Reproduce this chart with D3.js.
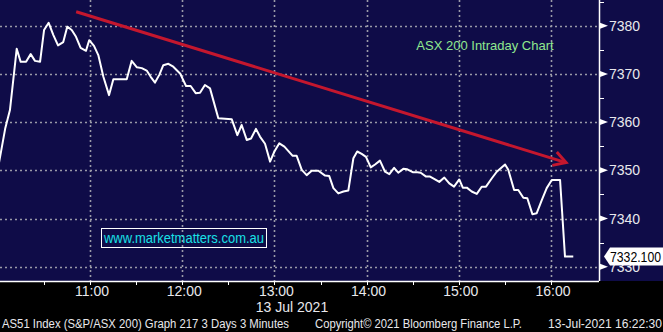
<!DOCTYPE html>
<html>
<head>
<meta charset="utf-8">
<script src="https://cdn.jsdelivr.net/npm/d3@7"></script>
<style>
  body { margin: 0; background: #000; }
  svg { display: block; font-family: "Liberation Sans", Arial, sans-serif; }
</style>
</head>
<body>
<svg id="chart" width="663" height="332"></svg>
<script>
// minutos depois das 10:00 e valor do índice
const minutes = [0, 4.9, 7.9, 12.3, 14.9, 18.4, 21.4, 24.2, 27.5, 30.1, 33.1, 36.1, 39.2, 42.6, 45.2, 48.1, 50.9, 53.9, 57.4, 59.5,
  62.6, 65.4, 68.7, 72.4, 75.2, 79.1, 83.9, 87.1, 90.4, 93.7, 96.9, 99.5, 102.3, 105.1, 107.7, 111.0, 114.2, 118.6, 122.5, 125.5,
  128.8, 131.6, 134.8, 138.1, 143.5, 152.2, 155.9, 158.7, 162.0, 164.8, 168.0, 170.6, 173.9, 177.2, 180.0, 183.2, 186.5, 191.9, 194.5, 197.8,
  201.0, 204.3, 208.6, 213.0, 215.7, 218.4, 221.6, 224.9, 228.1, 231.4, 233.9, 236.8, 239.6, 242.7, 245.5, 248.7, 252.0, 254.8, 257.9, 260.6,
  263.9, 266.5, 270.0, 273.0, 275.2, 278.7, 281.3, 284.5, 287.3, 290.6, 293.8, 296.9, 300.3, 302.6, 305.2, 308.4, 311.7, 314.9, 317.7, 321.4,
  324.7, 330.1, 332.2, 336.0, 338.7, 342.0, 344.6, 347.9, 350.7, 354.0, 357.2, 360.5, 365.9, 369.1, 374.5];
const values = [7350.2, 7358.8, 7362.5, 7375.2, 7372.5, 7372.5, 7374.1, 7372.7, 7372.5, 7379.1, 7380.6, 7378.1, 7375.9, 7376.6, 7379.8, 7379.1, 7377.7, 7375.4, 7374.8, 7377.0,
  7375.8, 7373.9, 7369.4, 7365.6, 7368.9, 7368.9, 7368.9, 7372.7, 7371.4, 7371.2, 7370.7, 7369.4, 7368.2, 7369.8, 7371.8, 7372.1, 7371.5, 7370.1, 7367.5, 7367.5,
  7366.0, 7366.1, 7367.7, 7367.0, 7360.8, 7360.6, 7357.3, 7359.4, 7356.3, 7356.6, 7358.6, 7357.0, 7355.5, 7351.8, 7353.9, 7355.6, 7354.9, 7353.0, 7353.0, 7350.1,
  7349.0, 7349.9, 7349.9, 7348.9, 7348.8, 7346.3, 7345.2, 7345.6, 7345.8, 7352.5, 7353.9, 7353.4, 7352.8, 7350.6, 7351.2, 7352.0, 7349.7, 7349.2, 7350.5, 7349.5,
  7350.3, 7350.2, 7349.6, 7349.6, 7349.5, 7348.7, 7348.7, 7348.1, 7347.6, 7348.5, 7347.3, 7346.6, 7348.1, 7346.4, 7346.4, 7345.6, 7345.1, 7346.6, 7346.6, 7348.3,
  7349.7, 7351.2, 7350.1, 7345.9, 7345.9, 7344.3, 7344.2, 7340.9, 7341.1, 7343.8, 7346.3, 7348.0, 7348.0, 7332.1, 7332.1];

const yTicks = [7330, 7340, 7350, 7360, 7370, 7380];
const yMinor = [7335, 7345, 7355, 7365, 7375, 7385];
const hourTicks = ["11:00", "12:00", "13:00", "14:00", "15:00", "16:00"];
const halfTicks = ["10:30", "11:30", "12:30", "13:30", "14:30", "15:30"];
const lastPrice = 7332.1;
// seta de tendência: início e fim (minutos, valor)
const trendStart = [51, 7382.9];
const trendEnd = [369.8, 7351.6];

const width = 663, height = 332;
const plotRight = 599, plotBottom = 281;
const navy = "#0f0c48";

const day = (m) => new Date(2021, 6, 13, 10, 0, 0, 0).getTime() + m * 60000;
const parseHM = (s) => { const [h, mm] = s.split(":").map(Number); return day((h - 10) * 60 + mm); };

const x = d3.scaleTime()
  .domain([day(0), day(360)])
  .range([-2.2, 551]);
const y = d3.scaleLinear()
  .domain([7330, 7380])
  .range([266.7, 25.7]);

const svg = d3.select("#chart");

// fundo
svg.append("rect").attr("width", width).attr("height", height).attr("fill", "#000");
svg.append("rect").attr("width", width).attr("height", plotBottom).attr("fill", navy);

// grade pontilhada
const grid = svg.append("g").attr("stroke", "#9a9aa8").attr("stroke-width", 1.6).attr("stroke-dasharray", "2,3");
grid.selectAll(".gy").data(yTicks).join("line")
  .attr("x1", 0).attr("x2", plotRight)
  .attr("y1", d => Math.round(y(d)) + 0.5).attr("y2", d => Math.round(y(d)) + 0.5);
grid.selectAll(".gx").data(hourTicks).join("line")
  .attr("x1", d => Math.round(x(parseHM(d))) + 0.5).attr("x2", d => Math.round(x(parseHM(d))) + 0.5)
  .attr("y1", 0).attr("y2", plotBottom);

// eixo inferior
const xAxis = svg.append("g").attr("transform", `translate(0,${plotBottom})`);
xAxis.append("line").attr("x1", 0).attr("x2", plotRight).attr("y1", 0.5).attr("y2", 0.5)
  .attr("stroke", "#fff").attr("stroke-width", 1.5);
xAxis.selectAll(".half").data(halfTicks).join("line")
  .attr("x1", d => Math.round(x(parseHM(d))) + 0.5).attr("x2", d => Math.round(x(parseHM(d))) + 0.5)
  .attr("y1", 0).attr("y2", 4).attr("stroke", "#fff");
xAxis.selectAll(".hour").data(hourTicks).join("line")
  .attr("x1", d => Math.round(x(parseHM(d))) + 0.5).attr("x2", d => Math.round(x(parseHM(d))) + 0.5)
  .attr("y1", 0).attr("y2", 4).attr("stroke", "#fff");
xAxis.selectAll("text").data(hourTicks).join("text")
  .attr("x", d => x(parseHM(d)) + 2)
  .attr("y", 15)
  .attr("text-anchor", "middle")
  .attr("fill", "#e8e8ec")
  .attr("font-size", 14)
  .text(d => d);

svg.append("text")
  .attr("x", 292).attr("y", 312)
  .attr("text-anchor", "middle")
  .attr("fill", "#e8e8ec").attr("font-size", 14)
  .text("13 Jul 2021");

// eixo direito
const yAxis = svg.append("g").attr("transform", `translate(${plotRight},0)`);
yAxis.append("line").attr("x1", 0.5).attr("x2", 0.5).attr("y1", 0).attr("y2", plotBottom)
  .attr("stroke", "#fff").attr("stroke-width", 1.5);
yAxis.selectAll(".minor").data(yMinor).join("line")
  .attr("x1", 0).attr("x2", 5)
  .attr("y1", d => Math.round(y(d)) + 0.5).attr("y2", d => Math.round(y(d)) + 0.5)
  .attr("stroke", "#fff");
yAxis.selectAll(".tri").data(yTicks).join("path")
  .attr("d", d => `M1,${y(d) - 3}L9,${y(d)}L1,${y(d) + 3}Z`)
  .attr("fill", "#fff");
yAxis.selectAll("text").data(yTicks).join("text")
  .attr("x", 10)
  .attr("y", d => y(d) + 5)
  .attr("fill", "#e8e8ec").attr("font-size", 14)
  .text(d => d);

// linha do índice
const pts = minutes.map((m, i) => [day(m), values[i]]);
svg.append("path")
  .datum(pts)
  .attr("fill", "none")
  .attr("stroke", "#fff")
  .attr("stroke-width", 2)
  .attr("stroke-linejoin", "round")
  .attr("d", d3.line().x(d => x(d[0])).y(d => y(d[1])));

// seta vermelha
const tx1 = x(day(trendStart[0])), ty1 = y(trendStart[1]);
const tx2 = x(day(trendEnd[0])), ty2 = y(trendEnd[1]);
const ang = Math.atan2(ty2 - ty1, tx2 - tx1);
const head = 14;
svg.append("line")
  .attr("x1", tx1).attr("y1", ty1).attr("x2", tx2).attr("y2", ty2)
  .attr("stroke", "#c4172e").attr("stroke-width", 3);
svg.append("path")
  .attr("d", `M${tx2 - head * Math.cos(ang - 0.5)},${ty2 - head * Math.sin(ang - 0.5)}L${tx2},${ty2}L${tx2 - head * Math.cos(ang + 0.55)},${ty2 - head * Math.sin(ang + 0.55)}`)
  .attr("fill", "none").attr("stroke", "#c4172e").attr("stroke-width", 3);

// rótulo do último preço
const ly = y(lastPrice);
svg.append("path")
  .attr("d", `M${plotRight + 5},${ly}L${plotRight + 11},${ly - 9}L${width},${ly - 9}L${width},${ly + 9}L${plotRight + 11},${ly + 9}Z`)
  .attr("fill", "#fff");
svg.append("text")
  .attr("x", plotRight + 11).attr("y", ly + 5)
  .attr("fill", "#000").attr("font-size", 14)
  .attr("textLength", 51).attr("lengthAdjust", "spacingAndGlyphs")
  .text(lastPrice.toFixed(3));

// título
svg.append("text")
  .attr("x", 485).attr("y", 50)
  .attr("text-anchor", "middle")
  .attr("fill", "#8fe88f").attr("font-size", 13)
  .text("ASX 200 Intraday Chart");

// site
svg.append("rect")
  .attr("x", 101.5).attr("y", 228.5).attr("width", 165).attr("height", 19)
  .attr("fill", "none").attr("stroke", "#fff").attr("stroke-width", 1);
svg.append("text")
  .attr("x", 184).attr("y", 243)
  .attr("text-anchor", "middle")
  .attr("fill", "#19e0e6").attr("font-size", 14)
  .attr("textLength", 160).attr("lengthAdjust", "spacingAndGlyphs")
  .text("www.marketmatters.com.au");

// rodapé
const foot = svg.append("g").attr("fill", "#e8e8ec").attr("font-size", 12);
foot.append("text").attr("x", 2).attr("y", 328)
  .attr("textLength", 287).attr("lengthAdjust", "spacingAndGlyphs")
  .text("AS51 Index (S&P/ASX 200) Graph 217 3 Days 3 Minutes");
foot.append("text").attr("x", 315).attr("y", 328)
  .attr("textLength", 207).attr("lengthAdjust", "spacingAndGlyphs")
  .text("Copyright© 2021 Bloomberg Finance L.P.");
foot.append("text").attr("x", 548).attr("y", 328)
  .attr("textLength", 114).attr("lengthAdjust", "spacingAndGlyphs")
  .text("13-Jul-2021 16:22:30");
</script>
</body>
</html>
